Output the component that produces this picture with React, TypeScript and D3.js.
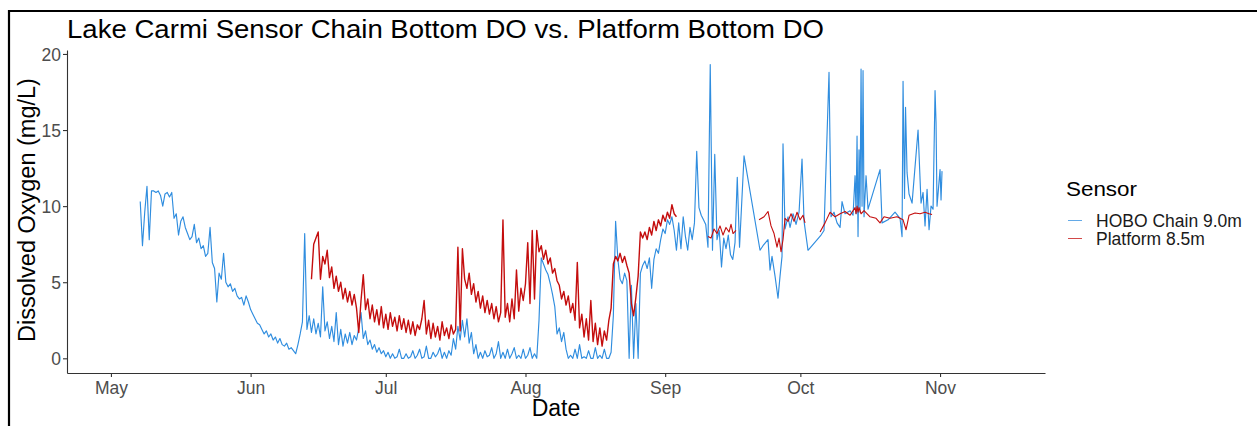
import React, { useEffect, useRef } from "react";
import * as d3 from "d3";

const monthTicks = ["2019-05-01", "2019-06-01", "2019-07-01", "2019-08-01", "2019-09-01", "2019-10-01", "2019-11-01"];
const monthLabels = ["May", "Jun", "Jul", "Aug", "Sep", "Oct", "Nov"];
const doTicks = [0, 5, 10, 15, 20];
const sensors = ["HOBO Chain 9.0m", "Platform 8.5m"];
const sensorColors = ["#2f8ddf", "#c40d0d"];

// HOBO chain 9.0m, 12-hourly readings (mg/L) starting at hoboStart
const hoboStart = "2019-05-07T12:00:00";
const hoboMay = [10.3, 7.4, 9.6, 11.3, 7.8, 11.0, 11.0, 10.9, 11.0, 10.7, 10.0, 10.8, 10.9, 10.6, 10.9, 9.2, 9.5, 8.1, 9.0, 9.3,
  8.6, 8.2, 7.8, 8.0, 8.8, 7.6, 7.9, 7.2, 7.4, 6.7, 6.9, 8.6, 6.3, 5.9, 3.7, 5.6, 5.2, 6.9, 5.0, 4.7, 4.9, 4.4, 4.6, 4.1, 3.9,
  4.0, 3.5, 4.1, 3.7];
const hoboJun = [3.2, 2.9, 2.6, 2.3, 2.2, 1.9, 1.6, 1.8, 1.4, 1.6, 1.2, 1.4, 1.0, 1.3, 0.9, 0.8, 1.0, 0.6, 0.7, 0.5, 0.3, 0.9,
  1.6, 2.4, 8.2, 1.9, 2.8, 1.7, 2.6, 1.6, 2.3, 1.4, 4.7, 1.8, 2.4, 1.3, 2.1, 1.1, 3.0, 0.9, 1.9, 0.8, 1.6, 1.0, 1.7, 0.9, 1.5,
  1.2, 2.0, 3.0, 1.3, 1.8, 0.9, 1.2, 0.6, 0.9, 0.4, 0.7, 0.3, 0.5];
const hoboJul = [0.1, 0.4, 0.0, 0.3, 0.0, 0.1, 0.6, 0.0, 0.0, 0.3, 0.0, 0.1, 0.5, 0.0, 0.2, 0.6, 0.0, 0.1, 0.8, 0.0, 0.0, 0.4,
  0.1, 0.3, 0.7, 0.0, 0.4, 0.0, 0.5, 0.2, 1.3, 0.6, 2.1, 1.2, 2.5, 1.4, 2.6, 1.0, 1.7, 0.3, 0.9, 0.0, 0.4, 0.0, 0.5, 0.1, 0.2,
  0.7, 0.0, 0.3, 1.1, 0.0, 0.4, 0.0, 0.6, 0.0, 0.3, 0.7, 0.0, 0.2, 0.0, 0.6];
const hoboAug = [0.0, 0.2, 0.7, 0.0, 0.3, 0.0, 2.5, 6.6, 6.2, 5.8, 5.5, 4.9, 4.2, 3.4, 1.6, 2.0, 1.1, 1.7, 0.6, 0.0, 0.2, 0.0,
  0.6, 0.0, 0.9, 0.0, 0.1, 0.0, 0.5, 0.0, 0.0, 0.7, 0.0, 0.2, 0.0, 0.6, 0.0, 0.0, 0.4, 2.8, 9.0, 6.5, 5.2, 4.9, 5.6, 5.1, 0.0,
  4.8, 0.0, 3.6, 0.0, 5.6, 6.1, 6.4, 5.9, 6.6, 4.6, 6.5, 7.2, 6.9, 7.8, 8.5];
const hoboSep = [8.2, 9.1, 8.8, 9.3, 8.4, 7.1, 8.9, 7.2, 9.3, 8.0, 7.1, 8.6, 7.8, 8.9, 13.6, 9.9, 9.4, 9.1, 8.8, 7.3, 19.3, 7.1,
  13.4, 7.8, 8.4, 6.0, 7.9, 7.2, 8.1, 6.8, 6.5, 7.6, 11.9, 7.3];
// sparse fall readings: [day of year, mg/L]
const hoboFall: [number, number][] = [
  [261.5, 13.3], [265.05, 7.1], [265.71, 7.4], [266.82, 7.8], [267.27, 5.8], [267.71, 6.7], [268.38, 5.4], [269.04, 3.95],
  [269.49, 5.4], [269.93, 6.7], [270.15, 14.1], [270.6, 8.5], [271.26, 9.3], [271.71, 8.6], [272.38, 9.5], [273.04, 8.8],
  [273.71, 9.6], [274.37, 13.1], [274.82, 9.0], [275.7, 7.1], [278.59, 8.1], [279.25, 8.4], [280.36, 18.8], [280.81, 9.3],
  [281.47, 9.6], [282.14, 8.9], [282.81, 8.6], [283.25, 10.3], [283.92, 9.5], [285.03, 9.7], [285.69, 9.4], [286.14, 12.0],
  [286.36, 9.5], [286.58, 14.6], [286.8, 8.0], [287.02, 13.7], [287.24, 9.6], [287.47, 19.0], [287.69, 10.0], [287.91, 18.9],
  [288.13, 9.3], [288.58, 12.0], [289.02, 9.8], [291.68, 12.4], [292.13, 8.9], [293.46, 9.1], [295.01, 9.6], [296.12, 9.2],
  [296.57, 8.0], [296.79, 18.2], [297.12, 10.5], [297.34, 16.5], [297.68, 12.2], [298.12, 10.8], [298.79, 10.2], [300.12, 15.0],
  [300.78, 10.2], [301.23, 10.9], [301.67, 8.7], [302.12, 11.1], [302.56, 8.45], [303.0, 10.0], [303.45, 9.8], [303.89, 17.6],
  [304.11, 15.5], [304.33, 10.0], [305.0, 12.4], [305.22, 10.4], [305.44, 12.3]
];

// Platform 8.5m, 12-hourly readings (mg/L) starting at platformStart
const platformStart = "2019-06-14T12:00:00";
const platformJun = [5.2, 7.5, 7.9, 8.3, 5.2, 6.7, 6.2, 7.1, 5.3, 6.0, 4.6, 5.4, 4.4, 5.0, 3.9, 4.6, 3.7, 4.4, 3.5, 4.2, 3.3,
  1.7, 3.8, 5.5, 3.2, 3.9, 2.6, 3.5, 2.4, 3.2, 2.2, 3.4, 2.0];
const platformJul = [2.9, 1.9, 3.0, 2.1, 2.7, 1.8, 2.8, 1.9, 2.6, 1.7, 2.5, 1.6, 2.4, 1.5, 2.2, 1.9, 2.6, 3.8, 1.6, 2.5, 1.3,
  2.3, 1.4, 2.1, 1.2, 2.4, 1.5, 2.0, 1.3, 2.2, 1.6, 1.9, 7.3, 1.8, 7.2, 5.2, 4.6, 5.6, 4.2, 4.9, 3.7, 4.4, 3.3, 4.1, 3.0, 3.8,
  2.9, 3.6, 2.6, 3.4, 2.4, 3.0, 9.1, 2.7, 3.6, 2.4, 3.9, 2.6, 5.8, 3.1, 4.6, 3.8];
const platformAug = [4.9, 7.6, 3.6, 8.4, 3.9, 8.4, 7.0, 7.4, 6.5, 7.1, 6.2, 6.6, 5.6, 5.9, 5.1, 4.8, 3.9, 4.4, 3.5, 4.1, 3.0,
  3.6, 2.5, 6.3, 2.0, 2.9, 1.4, 2.6, 1.2, 3.8, 1.1, 2.3, 0.9, 2.0, 0.8, 1.8, 1.2, 2.5, 3.3, 6.2, 6.7, 6.4, 6.9, 6.3, 6.7, 6.1,
  5.6, 3.6, 2.8, 4.0, 5.4, 8.3, 7.9, 8.3, 7.8, 8.6, 8.1, 9.0, 8.4, 9.1, 8.7, 9.4];
const platformSep = [9.0, 9.6, 9.2, 10.1, 9.5, 9.3];
// later platform pieces: [day of year, mg/L], separated by gaps
const platformMidSep: [number, number][] = [
  [253.51, 8.0], [254.17, 7.9], [254.84, 8.5], [255.5, 8.2], [256.17, 8.7], [256.84, 8.1], [257.5, 8.6], [258.17, 8.3],
  [258.61, 8.8], [259.06, 8.2], [259.72, 8.4]
];
const platformLateSep: [number, number][] = [
  [264.83, 9.1], [265.94, 9.3], [266.82, 9.65], [267.49, 8.7], [268.16, 8.2], [268.82, 7.3], [269.27, 7.9], [269.71, 7.0],
  [270.15, 7.8], [270.6, 9.2], [271.26, 9.0], [271.93, 9.5], [272.6, 9.0], [273.26, 9.6], [273.93, 9.1], [274.59, 9.4],
  [275.04, 8.9]
];
const platformOct: [number, number][] = [
  [278.37, 8.3], [279.48, 8.9], [280.59, 9.6], [281.7, 9.3], [282.81, 9.5], [283.92, 9.65], [285.03, 9.4], [286.14, 9.9],
  [286.36, 9.5], [286.58, 10.0], [286.8, 9.6], [287.02, 9.9], [287.47, 9.5], [288.13, 9.7], [289.47, 9.3], [290.8, 9.2],
  [291.68, 8.9], [292.57, 9.3], [293.9, 9.2], [295.46, 9.3], [296.79, 9.1], [297.46, 8.45], [298.12, 9.4], [299.45, 9.55],
  [300.56, 9.5], [301.67, 9.6], [302.56, 9.5], [303.23, 9.45]
];

type Pt = { date: Date; value: number };
const HALF_DAY = 12 * 3600 * 1000;
const DAY = 24 * 3600 * 1000;
const yearStart = new Date(2019, 0, 1).getTime();
const regular = (start: string, values: number[]): Pt[] =>
  values.map((v, i) => ({ date: new Date(new Date(start).getTime() + i * HALF_DAY), value: v }));
const fromDoy = (pairs: [number, number][]): Pt[] =>
  pairs.map(([d, v]) => ({ date: new Date(yearStart + (d - 1) * DAY), value: v }));

const FONT = "'Liberation Sans', Arial, sans-serif";

const App = () => {
  const svgRef = useRef<SVGSVGElement | null>(null);
  const width = 1257;
  const height = 426;

  useEffect(() => {
    const svg = d3.select(svgRef.current);
    svg.selectAll("*").remove();

    const x = d3.scaleTime()
      .domain([new Date(2019, 3, 21, 6), new Date(2019, 10, 24, 7)])
      .range([67, 1045]);
    const y = d3.scaleLinear()
      .domain([-0.965, 20.26])
      .range([373, 50]);

    const line = d3.line<Pt>()
      .x(d => x(d.date))
      .y(d => y(d.value));

    // frame from the screenshot
    svg.append("path")
      .attr("d", "M9,426V11H1257")
      .attr("fill", "none")
      .attr("stroke", "#000")
      .attr("stroke-width", 2.2);

    // series
    const hobo = regular(hoboStart, [...hoboMay, ...hoboJun, ...hoboJul, ...hoboAug, ...hoboSep]).concat(fromDoy(hoboFall));
    const platform = [
      regular(platformStart, [...platformJun, ...platformJul, ...platformAug, ...platformSep]),
      fromDoy(platformMidSep),
      fromDoy(platformLateSep),
      fromDoy(platformOct),
    ];

    svg.append("path")
      .datum(hobo)
      .attr("d", line)
      .attr("fill", "none")
      .attr("stroke", sensorColors[0])
      .attr("stroke-width", 1.15)
      .attr("stroke-linejoin", "round");

    svg.selectAll(".plat")
      .data(platform)
      .join("path")
      .attr("class", "plat")
      .attr("d", d => line(d))
      .attr("fill", "none")
      .attr("stroke", sensorColors[1])
      .attr("stroke-width", (d, i) => (i === 0 ? 1.4 : 1.1))
      .attr("stroke-linejoin", "round");

    // axes
    const xAxis = d3.axisBottom(x)
      .tickValues(monthTicks.map(m => new Date(m + "T00:00:00")))
      .tickFormat((d, i) => monthLabels[i])
      .tickSize(4)
      .tickSizeOuter(0)
      .tickPadding(4.5);
    const yAxis = d3.axisLeft(y)
      .tickValues(doTicks)
      .tickFormat(d => String(d))
      .tickSize(4)
      .tickSizeOuter(0)
      .tickPadding(2);

    const gx = svg.append("g").attr("transform", "translate(0,373)").call(xAxis);
    const gy = svg.append("g").attr("transform", "translate(67,0)").call(yAxis);
    [gx, gy].forEach(g => {
      g.attr("font-family", FONT).attr("font-size", 17.5);
      g.selectAll(".domain").attr("stroke", "#333").attr("stroke-width", 1.1);
      g.selectAll(".tick line").attr("stroke", "#333").attr("stroke-width", 1.1);
      g.selectAll(".tick text").attr("fill", "#4d4d4d");
    });
    gy.selectAll(".tick text").attr("dy", "0.36em");

    // titles
    svg.append("text")
      .attr("x", 67).attr("y", 38)
      .attr("font-family", FONT).attr("font-size", 25)
      .attr("textLength", 757).attr("lengthAdjust", "spacingAndGlyphs")
      .text("Lake Carmi Sensor Chain Bottom DO vs. Platform Bottom DO");

    svg.append("text")
      .attr("x", 556).attr("y", 416)
      .attr("text-anchor", "middle")
      .attr("font-family", FONT).attr("font-size", 23)
      .text("Date");

    svg.append("text")
      .attr("transform", "translate(35,210) rotate(-90)")
      .attr("text-anchor", "middle")
      .attr("font-family", FONT).attr("font-size", 23.5)
      .text("Dissolved Oxygen (mg/L)");

    // legend
    const legend = svg.append("g");
    legend.append("text")
      .attr("x", 1066).attr("y", 196)
      .attr("font-family", FONT).attr("font-size", 21)
      .attr("textLength", 71).attr("lengthAdjust", "spacingAndGlyphs")
      .text("Sensor");
    const keyY = [220.5, 238.5];
    sensors.forEach((s, i) => {
      legend.append("line")
        .attr("x1", 1068).attr("x2", 1082)
        .attr("y1", keyY[i]).attr("y2", keyY[i])
        .attr("stroke", sensorColors[i])
        .attr("stroke-width", 1)
        .attr("opacity", 0.75);
      legend.append("text")
        .attr("x", 1096).attr("y", keyY[i] + 6.5)
        .attr("font-family", FONT).attr("font-size", 17.5)
        .attr("fill", "#1a1a1a")
        .text(s);
    });
  }, []);

  return (
    <svg
      ref={svgRef}
      width={width}
      height={height}
      style={{ position: "absolute", left: 0, top: 0, background: "#fff" }}
    />
  );
};

export default App;
